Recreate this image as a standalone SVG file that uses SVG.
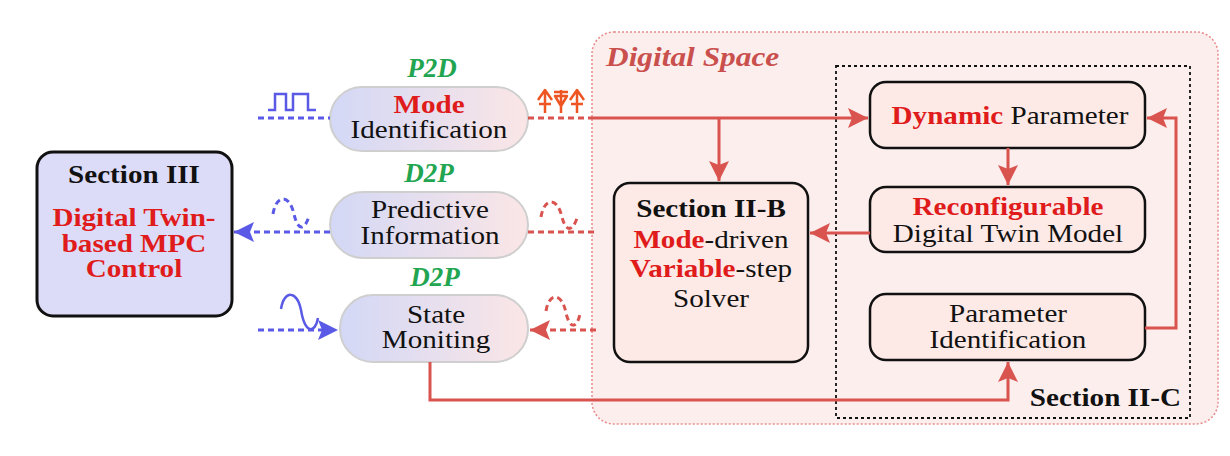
<svg xmlns="http://www.w3.org/2000/svg" width="1230" height="456" viewBox="0 0 1230 456">
<defs>
<linearGradient id="pill" x1="0" y1="0" x2="1" y2="0">
<stop offset="0" stop-color="#d3d8f6"/>
<stop offset="1" stop-color="#fbe6e6"/>
</linearGradient>
<marker id="ar" markerUnits="userSpaceOnUse" markerWidth="22" markerHeight="22" refX="20" refY="10" orient="auto">
<path d="M0,0 L20,10 L0,20 L4,10 z" fill="#d9534f"/>
</marker>
<marker id="ab" markerUnits="userSpaceOnUse" markerWidth="22" markerHeight="22" refX="20" refY="10" orient="auto">
<path d="M0,0 L20,10 L0,20 L4,10 z" fill="#5a5ae6"/>
</marker>
</defs>
<style>
text{font-family:"Liberation Serif","Times New Roman",serif;font-size:26px;fill:#111;text-anchor:middle;}
.b{font-weight:bold;}
.r{fill:#e01b1b;font-weight:bold;}
.g{fill:#22a550;font-weight:bold;font-style:italic;font-size:27px;}
.box{fill:#fde9e6;stroke:#111;stroke-width:2.5;}
.pill{fill:url(#pill);stroke:#cfcfcf;stroke-width:2;}
.red{fill:none;stroke:#d9534f;stroke-width:3;}
.redd{fill:none;stroke:#d9534f;stroke-width:3;stroke-dasharray:6,4;}
.blued{fill:none;stroke:#5a5ae6;stroke-width:3;stroke-dasharray:6,4;}
.blue{fill:none;stroke:#5a5ae6;stroke-width:2.5;}
.ico{fill:none;stroke:#ee5522;stroke-width:2.5;stroke-linejoin:round;}
</style>
<rect width="1230" height="456" fill="#ffffff"/>

<g id="digital-space">
<rect x="592" y="32" width="626" height="392" rx="22" fill="#fdeeee" stroke="#e88a8a" stroke-width="1.5" stroke-dasharray="2,2"/>
<text transform="translate(606,66) scale(1.12,1)" style="text-anchor:start;font-size:28px;font-weight:bold;font-style:italic;fill:#c9504d">Digital Space</text>
</g>

<g id="section-2c">
<rect x="836" y="66" width="354" height="352" fill="none" stroke="#111" stroke-width="1.8" stroke-dasharray="3,3"/>
<text transform="translate(1181,406) scale(1.12,1)" class="b" style="text-anchor:end">Section II-C</text>
</g>

<g id="section-3">
<rect x="37" y="152" width="195" height="164" rx="16" fill="#dcdcf8" stroke="#111" stroke-width="3"/>
<text transform="translate(134,183) scale(1.12,1)" class="b">Section III</text>
<text transform="translate(134,226) scale(1.12,1)" class="r">Digital Twin-</text>
<text transform="translate(134,252) scale(1.12,1)" class="r">based MPC</text>
<text transform="translate(134,277) scale(1.12,1)" class="r">Control</text>
</g>

<g id="mode-identification">
<text x="432" y="77" class="g">P2D</text>
<rect x="330" y="87" width="198" height="64" rx="32" class="pill"/>
<text transform="translate(429,113) scale(1.12,1)" class="r">Mode</text>
<text transform="translate(429,138) scale(1.12,1)">Identification</text>
</g>

<g id="predictive-information">
<text x="429" y="182" class="g">D2P</text>
<rect x="330" y="192" width="198" height="66" rx="33" class="pill"/>
<text transform="translate(430,218) scale(1.12,1)">Predictive</text>
<text transform="translate(430,244) scale(1.12,1)">Information</text>
</g>

<g id="state-monitoring">
<text x="435" y="286" class="g">D2P</text>
<rect x="340" y="295" width="188" height="67" rx="33" class="pill"/>
<text transform="translate(436,323) scale(1.12,1)">State</text>
<text transform="translate(436,348) scale(1.12,1)">Moniting</text>
</g>

<g id="section-2b">
<rect x="614" y="183" width="194" height="179" rx="16" class="box"/>
<text transform="translate(711,217) scale(1.12,1)" class="b">Section II-B</text>
<text transform="translate(711,248) scale(1.12,1)"><tspan class="r">Mode</tspan>-driven</text>
<text transform="translate(711,277) scale(1.12,1)"><tspan class="r">Variable</tspan>-step</text>
<text transform="translate(711,307) scale(1.12,1)">Solver</text>
</g>

<g id="dynamic-parameter">
<rect x="870" y="82" width="275" height="66" rx="16" class="box"/>
<text transform="translate(1010,124) scale(1.12,1)"><tspan class="r">Dynamic</tspan> Parameter</text>
</g>

<g id="reconfigurable-model">
<rect x="870" y="187" width="275" height="65" rx="16" class="box"/>
<text transform="translate(1008,215) scale(1.12,1)" class="r">Reconfigurable</text>
<text transform="translate(1008,242) scale(1.12,1)">Digital Twin Model</text>
</g>

<g id="parameter-identification">
<rect x="870" y="294" width="275" height="66" rx="16" class="box"/>
<text transform="translate(1008,322) scale(1.12,1)">Parameter</text>
<text transform="translate(1008,348) scale(1.12,1)">Identification</text>
</g>

<g id="connectors">
<!-- mode identification -->
<path class="blued" d="M258,118 L330,118"/>
<path class="blue" d="M268,110 L275,110 L275,94 L286,94 L286,110 L293,110 L293,94 L308,94 L308,110 L316,110"/>
<path class="redd" d="M528,118 L592,118"/>
<path class="red" d="M592,118 L868,118" marker-end="url(#ar)"/>
<path class="red" d="M719,118 L719,181" marker-end="url(#ar)"/>
<g class="ico">
<path d="M545,113 L545,90 M538,100 L545,90 L552,100 M539,104 L551,104"/>
<path d="M561,113 L561,90 M554,92 L568,92 M555,96 L561,106 L567,96 Z"/>
<path d="M577,113 L577,90 M570,100 L577,90 L584,100 M571,104 L583,104"/>
</g>
<!-- predictive -->
<path class="blued" d="M330,232 L234,232" marker-end="url(#ab)"/>
<path class="blued" d="M273,214 C276,195 289,193 294,214 C298,232 305,230 309,216"/>
<path class="redd" d="M528,232 L596,232"/>
<path class="redd" d="M541,217 C544,198 557,196 562,217 C566,233 573,231 577,218"/>
<path class="red" d="M870,233 L810,233" marker-end="url(#ar)"/>
<!-- state monitoring -->
<path class="blued" d="M258,330 L338,330" marker-end="url(#ab)"/>
<path class="blue" d="M281,309 C284,290 297,290 301,310 C305,334 315,334 318,318"/>
<path class="redd" d="M596,330 L530,330" marker-end="url(#ar)"/>
<path class="redd" d="M546,311 C549,292 562,292 566,313 C570,330 577,328 580,314"/>
<!-- internal II-C -->
<path class="red" d="M1008,148 L1008,185" marker-end="url(#ar)"/>
<path class="red" d="M1145,328 L1176,328 L1176,118 L1147,118" marker-end="url(#ar)"/>
<path class="red" d="M430,362 L430,400 L1008,400 L1008,362" marker-end="url(#ar)"/>
</g>
</svg>
